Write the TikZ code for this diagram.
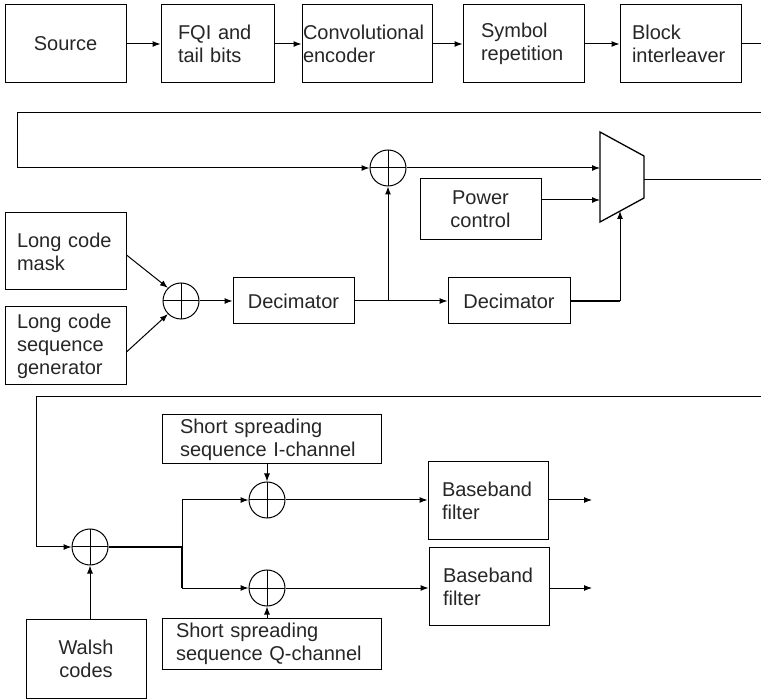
\documentclass[tikz,border=0pt]{standalone}
\usepackage{fontspec}
\setmainfont{Liberation Sans}
\usetikzlibrary{arrows.meta}
\begin{document}
\begin{tikzpicture}[x=1pt,y=-1pt,
  line width=1pt, >={Latex[length=8pt,width=6pt]},
  every node/.style={font=\fontsize{20}{23}\selectfont, text=black!85},
  box/.style={draw, rectangle, inner ysep=0pt, align=left},
  cbox/.style={draw, rectangle, inner sep=0pt, align=center},
  xor/.style={draw, circle, minimum size=36pt, inner sep=0pt,
    path picture={\draw (path picture bounding box.north) -- (path picture bounding box.south)
      (path picture bounding box.west) -- (path picture bounding box.east);}},
  thk/.style={line width=2pt}]
\useasboundingbox (0,0) rectangle (761,700);
% Row 1
\node[cbox, minimum width=121pt, minimum height=78pt] (src) at (65.5,44) {Source};
\node[box, minimum height=78pt, text width=79pt, inner xsep=17pt] (fqi) at (217.5,44) {FQI and\\tail bits};
\node[box, minimum height=78pt, text width=128pt, inner xsep=1pt] (conv) at (367,44) {Convolutional\\encoder};
\node[box, minimum height=78pt, text width=85pt, inner xsep=18pt] (sym) at (523.5,44) {Symbol\\repetition};
\node[box, minimum height=78pt, text width=97pt, inner xsep=12pt] (blk) at (680.5,44) {Block\\interleaver};
\coordinate (r1out) at (761,44);
\draw[->] (src) -- (fqi);
\draw[->] (fqi) -- (conv);
\draw[->] (conv) -- (sym);
\draw[->] (sym) -- (blk);
\draw (blk.east) -- (r1out);
% Row 2
\coordinate (r2in) at (761,113);
\coordinate (r2l) at (17,113);
\node[xor] (x1) at (388,168) {};
\node[cbox, minimum width=121pt, minimum height=61pt] (pc) at (480.5,209.5) {Power\\control};
\draw[line width=1.3pt] (600,132) -- (644,156) -- (644,198) -- (600,222) -- cycle;
\coordinate (m1) at (600,168);
\coordinate (m2) at (600,200);
\coordinate (m3) at (620,211);
\coordinate (mo) at (644,180);
\coordinate (r2out) at (761,180);
\node[box, minimum height=77pt, text width=97pt, inner xsep=12pt] (lcm) at (65.5,251.5) {Long code\\mask};
\node[box, minimum height=78pt, text width=97pt, inner xsep=12pt] (lcg) at (65.5,346) {Long code\\sequence\\generator};
\node[xor] (x2) at (181,301) {};
\node[cbox, minimum width=121pt, minimum height=46pt] (d1) at (293.5,301) {Decimator};
\node[cbox, minimum width=122pt, minimum height=46pt] (d2) at (509,301) {Decimator};
\coordinate (j1) at (388,301);
\draw[->] (r2in) -- (r2l) |- (x1.west);
\draw[->] (x1.east) -- (m1);
\draw[->] (pc.east |- m2) -- (m2);
\draw (mo) -- (r2out);
\draw[->] ([yshift=-3.5pt]lcm.east) -- (x2.135);
\draw[->] ([yshift=-6pt]lcg.east) -- (x2.225);
\draw[->] (x2.east) -- (d1.west);
\draw (d1.east) -- (j1);
\draw[->] (j1) -- (x1.south);
\draw[->] (j1) -- (d2.west);
\draw[thk] (d2.east) -- (d2.east -| m3);
\draw[->] (d2.east -| m3) -- (m3);
% Row 3
\coordinate (r3in) at (761,397);
\coordinate (r3l) at (36,397);
\node[xor] (x3) at (90,547) {};
\node[cbox, minimum width=120pt, minimum height=79pt] (walsh) at (86,658.5) {Walsh\\codes};
\coordinate (j2) at (182,547);
\node[xor] (x4) at (267,500) {};
\node[xor] (x5) at (267,588) {};
\node[box, minimum height=49pt, text width=183pt, inner xsep=18pt] (ssi) at (271.5,439.5) {Short spreading\\\mbox{sequence I-channel}};
\node[box, minimum height=51pt, text width=191pt, inner xsep=14pt] (ssq) at (271.5,643.5) {Short spreading\\\mbox{sequence Q-channel}};
\node[box, minimum height=78pt, text width=92pt, inner xsep=14pt] (bb1) at (488,501) {Baseband\\filter};
\node[box, minimum height=77pt, text width=92pt, inner xsep=14pt] (bb2) at (489,586.5) {Baseband\\filter};
\coordinate (o1) at (592,500);
\coordinate (o2) at (592,588);
\draw[->] (r3in) -- (r3l) |- (x3.west);
\draw[->] (x3 |- walsh.north) -- (x3.south);
\draw[thk] (x3.east) -- (j2);
\draw[->] (j2) |- (x4.west);
\draw[thk] (j2) -- (j2 |- x5);
\draw[->] (j2 |- x5) -- (x5.west);
\draw[->] (ssi.south -| x4) -- (x4.north);
\draw[->] (ssq.north -| x5) -- (x5.south);
\draw[->] (x4.east) -- (x4 -| bb1.west);
\draw[->] (x5.east) -- (x5 -| bb2.west);
\draw[->] (bb1.east |- o1) -- (o1);
\draw[->] (bb2.east |- o2) -- (o2);
\end{tikzpicture}
\end{document}
